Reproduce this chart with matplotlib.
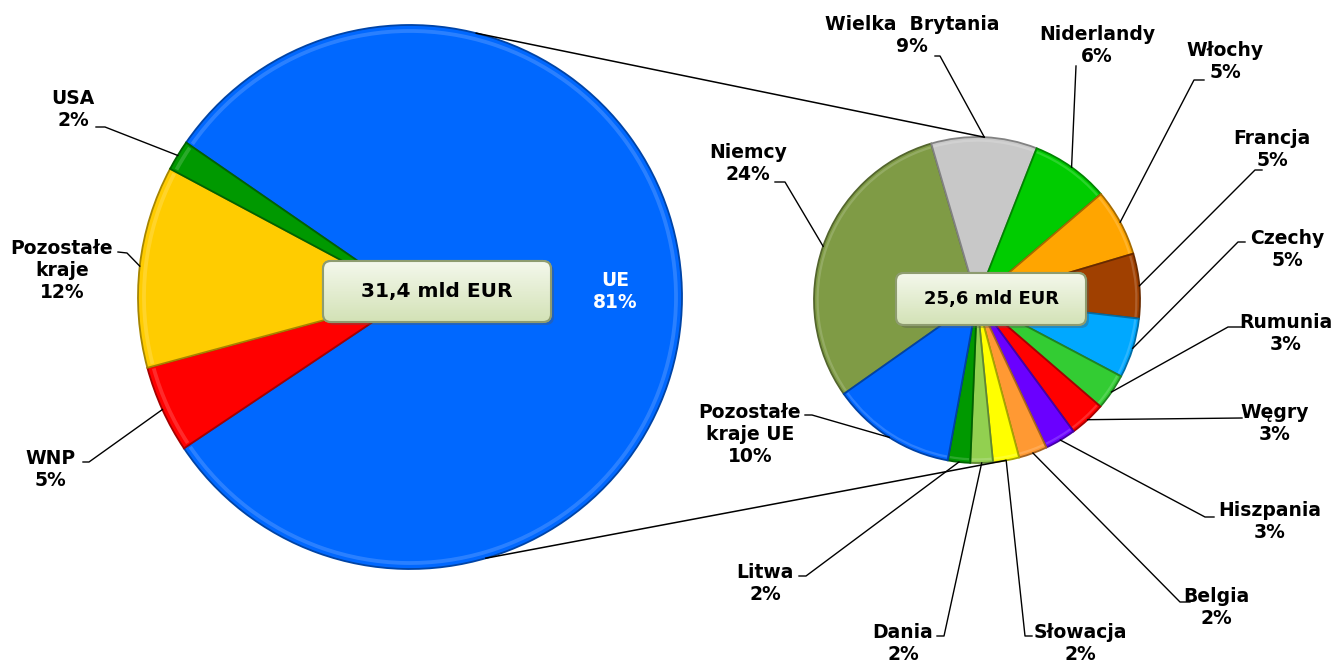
import numpy as np
import matplotlib
matplotlib.use("Agg")
import matplotlib.pyplot as plt
from matplotlib.patches import FancyBboxPatch, Wedge
from matplotlib.colors import LinearSegmentedColormap, to_rgb

# eksport - swiat
world_names = ["UE", "WNP", "Pozostałe\nkraje", "USA"]
world_values = [81.0, 5.2, 12.0, 1.8]
world_pct = ["81%", "5%", "12%", "2%"]
world_colors = ["#0068FF", "#FF0000", "#FFCC00", "#009900"]

# eksport - UE
eu_names = ["Niemcy", "Wielka  Brytania", "Niderlandy", "Włochy", "Francja", "Czechy",
            "Rumunia", "Węgry", "Hiszpania", "Belgia", "Słowacja", "Dania", "Litwa",
            "Pozostałe\nkraje UE"]
eu_values = [24.5, 8.5, 6.3, 5.4, 5.2, 4.8, 2.9, 2.9, 2.5, 2.3, 2.1, 1.8, 1.8, 10.0]
eu_pct = ["24%", "9%", "6%", "5%", "5%", "5%", "3%", "3%", "3%", "2%", "2%", "2%", "2%", "10%"]
eu_colors = ["#7F9B45", "#C8C8C8", "#00CC00", "#FFA500", "#A04000", "#00A8FF", "#33CC33",
             "#FF0000", "#6A00FF", "#FF9933", "#FFFF00", "#92D050", "#009900", "#0066FF"]

world_total = "31,4 mld EUR"
eu_total = "25,6 mld EUR"

W, H = 1337, 664
fig = plt.figure(figsize=(W / 100, H / 100), dpi=100)
ax = fig.add_axes([0, 0, 1, 1])


def py(y):
    # pixel row (from top) -> data y
    return H - y


def shade(c, f):
    r, g, b = to_rgb(c)
    if f < 1:
        return (r * f, g * f, b * f)
    return (r + (1 - r) * (f - 1), g + (1 - g) * (f - 1), b + (1 - b) * (f - 1))


def draw_pie(values, colors, center, radius, start):
    wedges, _ = ax.pie(values, colors=colors, center=center, radius=radius,
                       startangle=start, counterclock=False, frame=False,
                       wedgeprops=dict(linewidth=1.3))
    for w, c in zip(wedges, colors):
        w.set_edgecolor(shade(c, 0.65))
        # thin light ring near the rim (bevel look)
        ax.add_patch(Wedge(center, radius * 0.985, w.theta1 + 0.5, w.theta2 - 0.5,
                           width=radius * 0.014, facecolor=shade(c, 1.3),
                           edgecolor="none", alpha=0.55, zorder=w.get_zorder() + 0.1))
    return wedges


c1, r1 = (410, py(297)), 272
c2, r2 = (977, py(300)), 163

w1 = draw_pie(world_values, world_colors, c1, r1, 145.4)
w2 = draw_pie(eu_values, eu_colors, c2, r2, 215.2)


def rim(center, radius, ang):
    a = np.deg2rad(ang)
    return center[0] + radius * np.cos(a), center[1] + radius * np.sin(a)


# connector lines between pies
for a1, a2 in [(75.9, 87.5), (-73.8, -80.0)]:
    p1 = rim(c1, r1, a1)
    p2 = rim(c2, r2, a2)
    ax.plot([p1[0], p2[0]], [p1[1], p2[1]], color="black", lw=1.1, zorder=1)

font = dict(fontsize=13.5, fontweight="bold", family="DejaVu Sans")

# left labels: text center, leader start points
left_pos = {
    "WNP": ((50, 469), [(83, 462), (89, 462)]),
    "Pozostałe\nkraje": ((62, 270), [(118, 252), (127, 253)]),
    "USA": ((73, 109), [(96, 127), (105, 127)]),
}
ax.text(615, py(291), world_names[0] + "\n" + world_pct[0], color="white",
        ha="center", va="center", zorder=10, **font)
for w, name, pct in zip(w1[1:], world_names[1:], world_pct[1:]):
    (tx, ty), pts = left_pos[name]
    ax.text(tx, py(ty), name + "\n" + pct, ha="center", va="center", zorder=10, **font)
    end = rim(c1, r1, (w.theta1 + w.theta2) / 2)
    xs = [p[0] for p in pts] + [end[0]]
    ys = [py(p[1]) for p in pts] + [end[1]]
    ax.plot(xs, ys, color="black", lw=1, zorder=8)

right_pos = [
    ((748, 164), [(775, 182), (785, 182)]),
    ((912, 35), [(935, 56), (940, 56)]),
    ((1097, 46), [(1076, 66)]),
    ((1225, 62), [(1204, 80), (1194, 80)]),
    ((1272, 150), [(1262, 170), (1255, 170)]),
    ((1287, 249), [(1245, 242), (1238, 242)]),
    ((1286, 333), [(1242, 327), (1228, 327)]),
    ((1275, 424), [(1242, 418)]),
    ((1270, 522), [(1214, 517), (1205, 517)]),
    ((1216, 608), [(1190, 602), (1180, 602)]),
    ((1080, 643), [(1032, 636), (1025, 636)]),
    ((903, 643), [(937, 636), (944, 636)]),
    ((765, 584), [(799, 576), (806, 576)]),
    ((750, 435), [(805, 415), (812, 415)]),
]
for w, name, pct, ((tx, ty), pts) in zip(w2, eu_names, eu_pct, right_pos):
    ax.text(tx, py(ty), name + "\n" + pct, ha="center", va="center", zorder=10, **font)
    end = rim(c2, r2, (w.theta1 + w.theta2) / 2)
    xs = [p[0] for p in pts] + [end[0]]
    ys = [py(p[1]) for p in pts] + [end[1]]
    ax.plot(xs, ys, color="black", lw=1, zorder=8)

# total boxes
box_cmap = LinearSegmentedColormap.from_list("box", ["#F4F8EC", "#D3E2B6"])
for (x0, y0, x1, y1), txt, fs in [((323, 261, 551, 322), world_total, 14.5),
                                  ((896, 273, 1086, 325), eu_total, 13)]:
    bx, by, bw, bh = x0, py(y1), x1 - x0, y1 - y0
    shadow = FancyBboxPatch((bx + 3, by - 3), bw, bh, boxstyle="round,pad=0,rounding_size=8",
                            facecolor="#555555", edgecolor="none", alpha=0.35, zorder=11)
    ax.add_patch(shadow)
    box = FancyBboxPatch((bx, by), bw, bh, boxstyle="round,pad=0,rounding_size=8",
                         facecolor="#E6EFD4", edgecolor="#8E9C70", lw=1.5, zorder=12)
    ax.add_patch(box)
    grad = np.linspace(0, 1, 64).reshape(-1, 1)
    im = ax.imshow(grad, cmap=box_cmap, extent=(bx, bx + bw, by, by + bh),
                   aspect="auto", zorder=12.5)
    im.set_clip_path(box)
    edge = FancyBboxPatch((bx, by), bw, bh, boxstyle="round,pad=0,rounding_size=8",
                          facecolor="none", edgecolor="#8E9C70", lw=1.5, zorder=13)
    ax.add_patch(edge)
    ax.text(bx + bw / 2, by + bh / 2, txt, ha="center", va="center", zorder=14,
            fontsize=fs, fontweight="bold", family="DejaVu Sans")

ax.set_xlim(0, W)
ax.set_ylim(0, H)
ax.set_aspect("auto")
ax.axis("off")

fig.savefig("out.png", dpi=100, facecolor="white")
